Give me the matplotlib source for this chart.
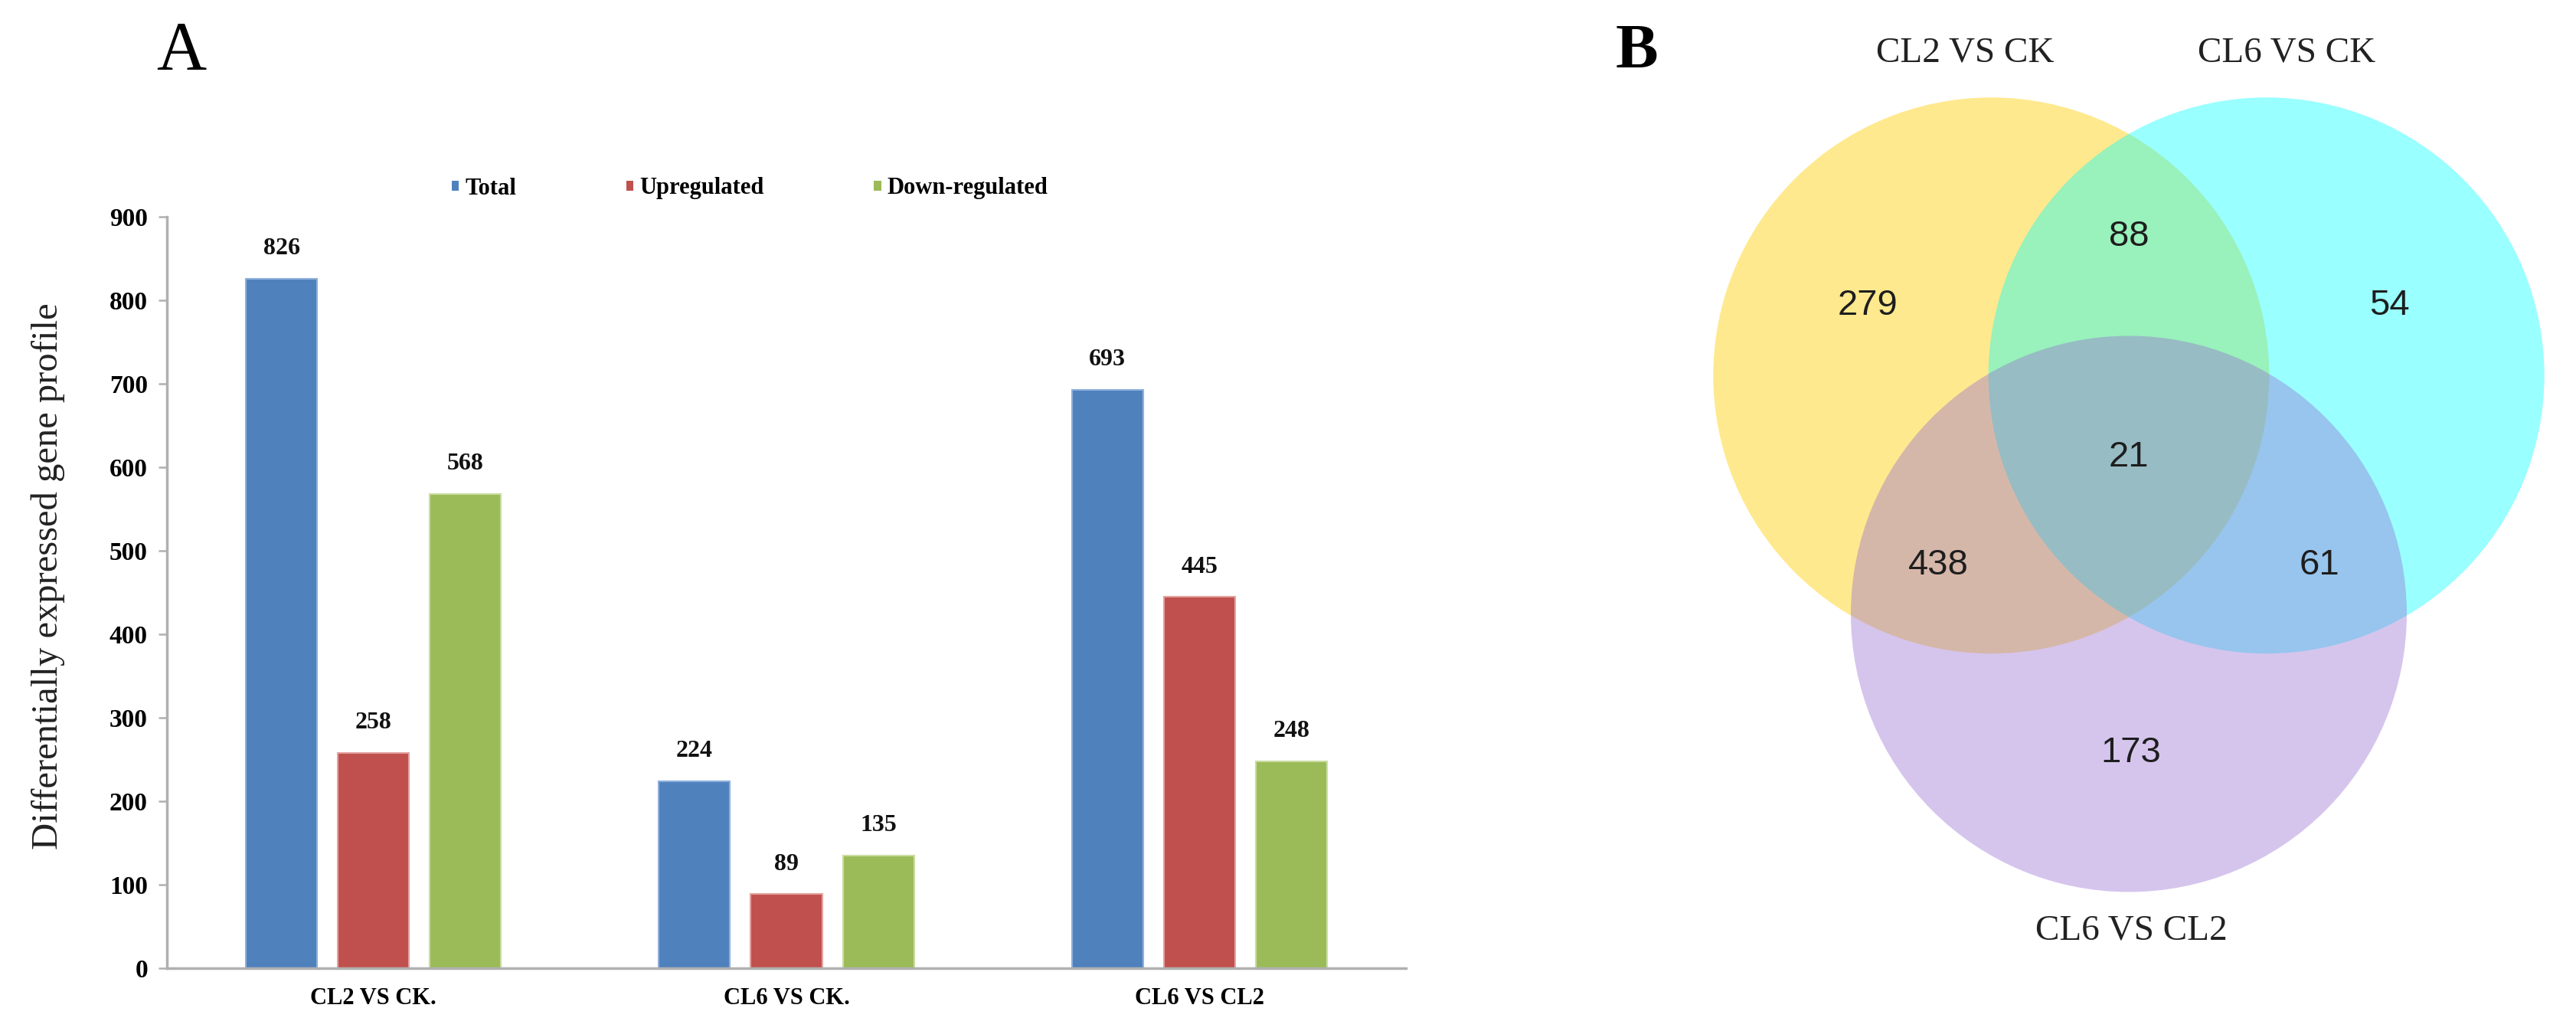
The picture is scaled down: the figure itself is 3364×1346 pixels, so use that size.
import numpy as np
import matplotlib
matplotlib.use("Agg")
import matplotlib.pyplot as plt
from matplotlib.patches import Circle, Patch

plt.rcParams["font.family"] = ["Liberation Serif", "DejaVu Serif"]

# ----------------------------------------------------------
# DATA
# ----------------------------------------------------------

comparisons = ["CL2 VS CK.", "CL6 VS CK.", "CL6 VS CL2"]
series_names = ["Total", "Upregulated", "Down-regulated"]
total = [826, 224, 693]
upregulated = [258, 89, 445]
downregulated = [568, 135, 248]
y_ticks = [0, 100, 200, 300, 400, 500, 600, 700, 800, 900]

venn_sets = ["CL2 VS CK", "CL6 VS CK", "CL6 VS CL2"]
# region counts: only A, only B, A&B, A&C, B&C, A&B&C, only C
venn_counts = [279, 54, 88, 438, 61, 21, 173]

bar_colors = ["#4F81BD", "#C0504D", "#9BBB59"]
bar_edges = ["#8FB0DC", "#E3A3A1", "#C9DDA0"]

# ----------------------------------------------------------
# FIGURE
# ----------------------------------------------------------

W, H = 3364, 1346
fig = plt.figure(figsize=(W / 100, H / 100), dpi=100)

# ---------------- panel A : bar chart ----------------------

ax = fig.add_axes([218 / W, 1 - 1264 / H, (1836 - 218) / W, (1264 - 283) / H])

x = np.arange(len(comparisons))
step = 0.2226
width = 0.1726

for i, values in enumerate([total, upregulated, downregulated]):
    bars = ax.bar(x + (i - 1) * step, values, width,
                  color=bar_colors[i], edgecolor=bar_edges[i],
                  linewidth=1.5, label=series_names[i])
    for b, v in zip(bars, values):
        ax.annotate(str(v), (b.get_x() + b.get_width() / 2, v),
                    xytext=(0, 28), textcoords="offset points",
                    ha="center", va="center",
                    fontsize=23, fontweight="bold", color="#111111")

ax.set_xlim(-0.5, 2.5)
ax.set_ylim(0, 900)
ax.set_yticks(y_ticks)
ax.set_xticks(x)
ax.set_xticklabels(comparisons, fontsize=22, fontweight="bold")
for lab in ax.get_yticklabels():
    lab.set_fontsize(24)
    lab.set_fontweight("bold")

ax.spines["top"].set_visible(False)
ax.spines["right"].set_visible(False)
for s in ["left", "bottom"]:
    ax.spines[s].set_color("#B0B0B0")
    ax.spines[s].set_linewidth(2.5)

ax.tick_params(axis="y", length=8, width=1.8, color="#B0B0B0", pad=10)
ax.tick_params(axis="x", length=0, pad=18)

fig.text(63 / W, 1 - 752 / H, "Differentially expressed gene profile",
         rotation=90, ha="center", va="center", fontsize=35, color="#222222")

handles = [Patch(facecolor=c) for c in bar_colors]
fig.legend(handles, series_names, loc="center",
           bbox_to_anchor=(979 / W, 1 - 246 / H), ncol=3, frameon=False,
           prop={"size": 22, "weight": "bold"},
           handlelength=0.32, handleheight=0.32, handletextpad=0.25,
           columnspacing=4.7)

fig.text(237 / W, 1 - 69 / H, "A", ha="center", va="center", fontsize=65)
fig.text(2137 / W, 1 - 69 / H, "B", ha="center", va="center",
         fontsize=60, fontweight="bold")

# ---------------- panel B : venn diagram -------------------

scale = 363.0
cx, cy = 2780, 594
left_px = 2080
ax2 = fig.add_axes([left_px / W, 0, (W - left_px) / W, 1])
ax2.set_xlim((left_px - cx) / scale, (W - cx) / scale)
ax2.set_ylim((cy - H) / scale, cy / scale)
ax2.axis("off")

d = 0.99
centres = [(-d / 2, d * np.sqrt(3) / 6),
           (d / 2, d * np.sqrt(3) / 6),
           (0, -d * np.sqrt(3) / 3)]
venn_colors = [(1.0, 208 / 255, 6 / 255, 0.45),
               (0.0, 1.0, 1.0, 0.40),
               (150 / 255, 110 / 255, 212 / 255, 0.40)]

for c, col in zip(centres, venn_colors):
    ax2.add_patch(Circle(c, 1.0, facecolor=col, edgecolor="none"))

set_label_pos = [(-0.590, 1.446), (0.567, 1.446), (0.008, -1.711)]
for name, (px, py) in zip(venn_sets, set_label_pos):
    ax2.text(px, py, name, ha="center", va="center",
             fontsize=34, color="#222222")

count_pos = [(-0.939, 0.537), (0.937, 0.537), (0.0, 0.785),
             (-0.686, -0.397), (0.686, -0.397), (0.0, -0.008),
             (0.008, -1.072)]
for n, (px, py) in zip(venn_counts, count_pos):
    ax2.text(px, py, str(n), ha="center", va="center",
             fontsize=34, color="#1E1E1E", family="Liberation Sans")

fig.savefig("out.png", dpi=100)
